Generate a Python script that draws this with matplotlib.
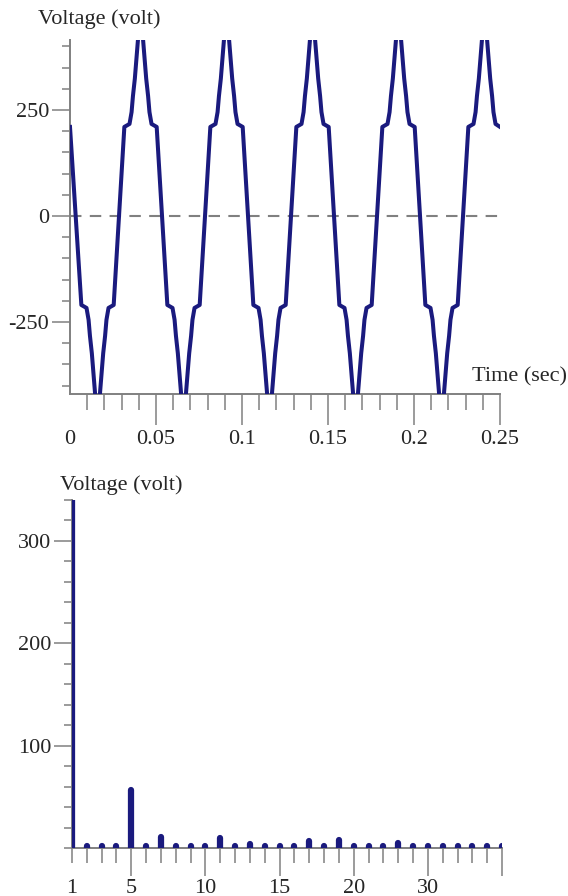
import matplotlib
matplotlib.use("Agg")
import matplotlib.pyplot as plt
from matplotlib.ticker import FixedLocator, MultipleLocator

# waveform (time in s, voltage in V)
time_s = [
    0.0,
    0.0066, 0.0096, 0.0108, 0.0116, 0.0127, 0.0135, 0.0147, 0.0160, 0.0173, 0.0185, 0.0193, 0.0204, 0.0212, 0.0224, 0.0254,
    0.0316, 0.0346, 0.0358, 0.0366, 0.0377, 0.0385, 0.0397, 0.0410, 0.0423, 0.0435, 0.0443, 0.0454, 0.0462, 0.0474, 0.0504,
    0.0566, 0.0596, 0.0608, 0.0616, 0.0627, 0.0635, 0.0647, 0.0660, 0.0673, 0.0685, 0.0693, 0.0704, 0.0712, 0.0724, 0.0754,
    0.0816, 0.0846, 0.0858, 0.0866, 0.0877, 0.0885, 0.0897, 0.0910, 0.0923, 0.0935, 0.0943, 0.0954, 0.0962, 0.0974, 0.1004,
    0.1066, 0.1096, 0.1108, 0.1116, 0.1127, 0.1135, 0.1147, 0.1160, 0.1173, 0.1185, 0.1193, 0.1204, 0.1212, 0.1224, 0.1254,
    0.1316, 0.1346, 0.1358, 0.1366, 0.1377, 0.1385, 0.1397, 0.1410, 0.1423, 0.1435, 0.1443, 0.1454, 0.1462, 0.1474, 0.1504,
    0.1566, 0.1596, 0.1608, 0.1616, 0.1627, 0.1635, 0.1647, 0.1660, 0.1673, 0.1685, 0.1693, 0.1704, 0.1712, 0.1724, 0.1754,
    0.1816, 0.1846, 0.1858, 0.1866, 0.1877, 0.1885, 0.1897, 0.1910, 0.1923, 0.1935, 0.1943, 0.1954, 0.1962, 0.1974, 0.2004,
    0.2066, 0.2096, 0.2108, 0.2116, 0.2127, 0.2135, 0.2147, 0.2160, 0.2173, 0.2185, 0.2193, 0.2204, 0.2212, 0.2224, 0.2254,
    0.2316, 0.2346, 0.2358, 0.2366, 0.2377, 0.2385, 0.2397, 0.2410, 0.2423, 0.2435, 0.2443, 0.2454, 0.2462, 0.2474, 0.2500,
]
volts = [
    210,
    -210, -217, -245, -283, -324, -364, -425, -430, -425, -364, -324, -283, -245, -217, -210,
    210, 217, 245, 283, 324, 364, 425, 430, 425, 364, 324, 283, 245, 217, 210,
    -210, -217, -245, -283, -324, -364, -425, -430, -425, -364, -324, -283, -245, -217, -210,
    210, 217, 245, 283, 324, 364, 425, 430, 425, 364, 324, 283, 245, 217, 210,
    -210, -217, -245, -283, -324, -364, -425, -430, -425, -364, -324, -283, -245, -217, -210,
    210, 217, 245, 283, 324, 364, 425, 430, 425, 364, 324, 283, 245, 217, 210,
    -210, -217, -245, -283, -324, -364, -425, -430, -425, -364, -324, -283, -245, -217, -210,
    210, 217, 245, 283, 324, 364, 425, 430, 425, 364, 324, 283, 245, 217, 210,
    -210, -217, -245, -283, -324, -364, -425, -430, -425, -364, -324, -283, -245, -217, -210,
    210, 217, 245, 283, 324, 364, 425, 430, 425, 364, 324, 283, 245, 217, 210,
]
time_ticks = [0, 0.05, 0.1, 0.15, 0.2, 0.25]
time_labels = ['0', '0.05', '0.1', '0.15', '0.2', '0.25']

# harmonic spectrum (bottom panel)
harmonic = list(range(1, 31))
amplitude = [340, 2, 2, 2, 57, 2, 11, 2, 2, 2,
             10, 2, 4, 2, 2, 2, 7, 2, 8, 2,
             2, 2, 5, 2, 2, 2, 2, 2, 2, 2]
harm_ticks = [1, 5, 10, 15, 20, 25, 30]
harm_labels = ['1', '5', '10', '15', '20', '30', '']

W, H = 568, 896
navy = '#1a1a7e'
grey = '#808080'
txt = '#262626'
plt.rcParams['font.family'] = ['Liberation Serif', 'DejaVu Serif']
plt.rcParams['font.size'] = 16
plt.rcParams['axes.unicode_minus'] = False

fig = plt.figure(figsize=(W / 100, H / 100), dpi=100)

def px_axes(left, top, right, bottom):
    return fig.add_axes([left / W, 1 - bottom / H, (right - left) / W, (bottom - top) / H])

def style(ax, xmaj, xmin, xpad, ymaj=13, ymin=6):
    for s in ['top', 'right']:
        ax.spines[s].set_visible(False)
    for s in ['left', 'bottom']:
        ax.spines[s].set_color(grey)
        ax.spines[s].set_linewidth(1.4)
    ax.tick_params(axis='x', which='major', direction='out', length=xmaj, width=1.1,
                   color=grey, labelcolor=txt, labelsize=16, pad=xpad)
    ax.tick_params(axis='x', which='minor', direction='out', length=xmin, width=1.1, color=grey)
    ax.tick_params(axis='y', which='major', direction='out', length=ymaj, width=1.1,
                   color=grey, labelcolor=txt, labelsize=16, pad=2)
    ax.tick_params(axis='y', which='minor', direction='out', length=ymin, width=1.1, color=grey)

# ---- top: time waveform
ax1 = px_axes(70, 40, 500, 394)
ax1.plot(time_s, volts, color=navy, lw=2.9, solid_joinstyle='round', zorder=3)
ax1.axhline(0, color=grey, lw=1.5, ls=(0, (5.5, 4.0)), zorder=1)
ax1.set_xlim(0, 0.25)
ax1.set_ylim(-420, 415)
ax1.xaxis.set_major_locator(FixedLocator(time_ticks))
ax1.set_xticklabels(time_labels)
ax1.xaxis.set_minor_locator(MultipleLocator(0.01))
ax1.yaxis.set_major_locator(FixedLocator([-250, 0, 250]))
ax1.yaxis.set_minor_locator(MultipleLocator(50))
style(ax1, 22, 11.5, 4)
ax1.xaxis.get_major_ticks()[0].tick1line.set_visible(False)

fig.text(38 / W, 1 - 19 / H, 'Voltage (volt)', ha='left', va='center', color=txt, fontsize=16)
fig.text(520 / W, 1 - 377 / H, 'Time (sec)', ha='center', va='center', color=txt, fontsize=16)

# ---- bottom: harmonic spectrum
ax2 = px_axes(72, 500, 502, 848)
bars = ax2.vlines(harmonic, 0, amplitude, color=navy, lw=4.5, zorder=3)
bars.set_capstyle('round')
ax2.set_xlim(1, 30)
ax2.set_ylim(0, 340)
ax2.xaxis.set_major_locator(FixedLocator(harm_ticks))
ax2.set_xticklabels(harm_labels)
ax2.xaxis.set_minor_locator(MultipleLocator(1))
ax2.yaxis.set_major_locator(FixedLocator([100, 200, 300]))
ax2.yaxis.set_minor_locator(MultipleLocator(20))
style(ax2, 20, 10.8, 2)
ax2.xaxis.get_major_ticks()[0].tick1line.set_markersize(10.8)

fig.text(60 / W, 1 - 485 / H, 'Voltage (volt)', ha='left', va='center', color=txt, fontsize=16)

fig.savefig('out.png', dpi=100, facecolor='white')
